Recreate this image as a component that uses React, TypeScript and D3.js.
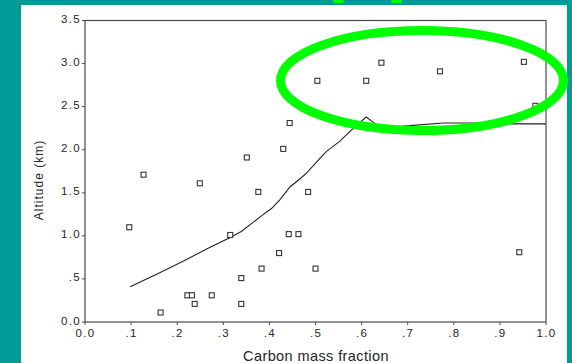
import React from 'react';
import * as d3 from 'd3';

// scatter: carbon mass fraction vs altitude (km)
const carbonFrac = [
  0.096, 0.127, 0.164, 0.222, 0.232, 0.238, 0.249, 0.275, 0.315, 0.339, 0.339,
  0.351, 0.376, 0.383, 0.421, 0.43, 0.442, 0.444, 0.463, 0.484, 0.5,
  0.504, 0.61, 0.643, 0.77, 0.942, 0.952, 0.977,
];
const altitudeKm = [
  1.1, 1.71, 0.11, 0.31, 0.31, 0.21, 1.61, 0.31, 1.01, 0.51, 0.21,
  1.91, 1.51, 0.62, 0.8, 2.01, 1.02, 2.31, 1.02, 1.51, 0.62,
  2.8, 2.8, 3.01, 2.91, 0.81, 3.02, 2.51,
];

// smoothed fit line
const fitX = [
  0.098, 0.161, 0.215, 0.268, 0.315, 0.339, 0.38, 0.405, 0.423, 0.445, 0.466,
  0.481, 0.506, 0.524, 0.553, 0.58, 0.61, 0.625, 0.643, 0.705, 0.777, 0.85,
  0.929, 1.0,
];
const fitY = [
  0.41, 0.57, 0.71, 0.86, 0.98, 1.05, 1.22, 1.32, 1.42, 1.57, 1.66,
  1.73, 1.88, 1.98, 2.1, 2.24, 2.38, 2.32, 2.25, 2.28, 2.31, 2.31,
  2.3, 2.3,
];

const xTicks = [0, 0.1, 0.2, 0.3, 0.4, 0.5, 0.6, 0.7, 0.8, 0.9, 1.0];
const xTickLabels = ['0.0', '.1', '.2', '.3', '.4', '.5', '.6', '.7', '.8', '.9', '1.0'];
const yTicks = [0, 0.5, 1.0, 1.5, 2.0, 2.5, 3.0, 3.5];
const yTickLabels = ['0.0', '.5', '1.0', '1.5', '2.0', '2.5', '3.0', '3.5'];

const W = 572;
const H = 363;
const TEAL = '#009b96';
const GREEN = '#00ff00';
const INK = '#262626';
const FONT = 'Arial, "Liberation Sans", Helvetica, sans-serif';

export default function App() {
  const x = d3.scaleLinear().domain([0, 1]).range([85, 546]);
  const y = d3.scaleLinear().domain([0, 3.5]).range([322, 20.5]);

  const fit = fitX.map((v, i) => [v, fitY[i]] as [number, number]);
  const linePath = d3
    .line<[number, number]>()
    .x((d) => x(d[0]))
    .y((d) => y(d[1]))
    .curve(d3.curveLinear)(fit);

  const sq = 5;

  return (
    <svg
      width={W}
      height={H}
      style={{ position: 'fixed', left: 0, top: 0, display: 'block' }}
      fontFamily={FONT}
    >
      <rect x={0} y={0} width={W} height={H} fill={TEAL} />
      <rect x={21} y={5} width={546} height={H - 5} fill="#ffffff" />

      {/* bits of cut-off green title */}
      <rect x={333} y={0} width={11} height={3} rx={1.5} fill={GREEN} />
      <rect x={391} y={0} width={11} height={3} rx={1.5} fill={GREEN} />

      {/* frame */}
      <rect
        x={x(0)}
        y={y(3.5)}
        width={x(1) - x(0)}
        height={y(0) - y(3.5)}
        fill="none"
        stroke="#4a4a4a"
        strokeWidth={1.2}
      />

      {/* y axis */}
      {yTicks.map((t, i) => (
        <g key={'y' + t}>
          <line x1={x(0) - 3} x2={x(0)} y1={y(t)} y2={y(t)} stroke="#4a4a4a" strokeWidth={1} />
          <text
            x={x(0) - 4}
            y={y(t) - 0.5}
            textAnchor="end"
            dominantBaseline="middle"
            fontSize={11.5}
            letterSpacing={1.3}
            fill={INK}
          >
            {yTickLabels[i]}
          </text>
        </g>
      ))}

      {/* x axis */}
      {xTicks.map((t, i) => (
        <g key={'x' + t}>
          <line x1={x(t)} x2={x(t)} y1={y(0)} y2={y(0) + 3} stroke="#4a4a4a" strokeWidth={1} />
          <text
            x={x(t) + 0.5}
            y={y(0) + 15}
            textAnchor="middle"
            fontSize={11.5}
            letterSpacing={1.3}
            fill={INK}
          >
            {xTickLabels[i]}
          </text>
        </g>
      ))}

      <text
        x={316}
        y={361}
        textAnchor="middle"
        fontSize={14.5}
        letterSpacing={0.4}
        fill={INK}
      >
        Carbon mass fraction
      </text>
      <text
        transform={`translate(43,180) rotate(-90)`}
        textAnchor="middle"
        fontSize={12}
        letterSpacing={1}
        fill={INK}
      >
        Altitude (km)
      </text>

      {/* fit line */}
      <path d={linePath || ''} fill="none" stroke="#222" strokeWidth={1.1} />

      {/* points */}
      {carbonFrac.map((v, i) => (
        <rect
          key={'p' + i}
          x={x(v) - sq / 2}
          y={y(altitudeKm[i]) - sq / 2}
          width={sq}
          height={sq}
          fill="#fff"
          stroke="#333"
          strokeWidth={1.1}
        />
      ))}

      {/* highlight ellipse */}
      <ellipse cx={422} cy={80.5} rx={141.5} ry={50} fill="none" stroke={GREEN} strokeWidth={9} />
    </svg>
  );
}
